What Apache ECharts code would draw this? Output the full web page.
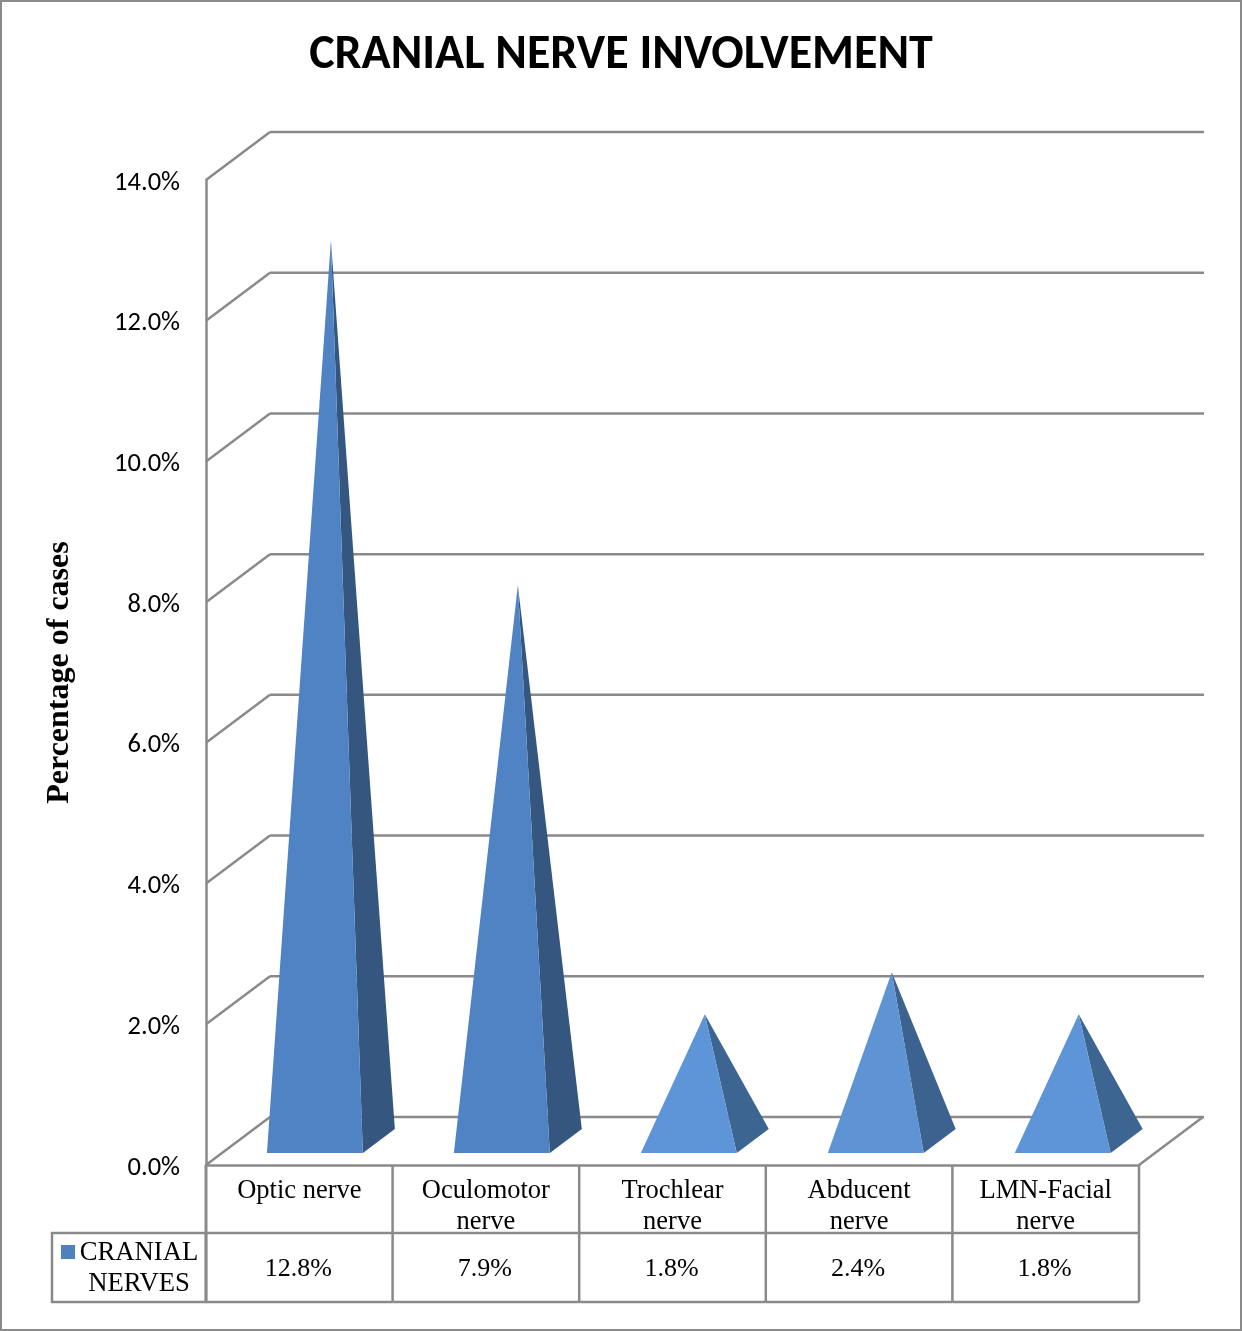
<!DOCTYPE html>
<html>
<head>
<meta charset="utf-8">
<title>Cranial nerve involvement</title>
<style>html,body{margin:0;padding:0;background:#fff}#chart{width:1242px;height:1331px}</style>
<script src="https://cdn.jsdelivr.net/npm/echarts@6/dist/echarts.min.js"></script>
</head>
<body>
<div id="chart"></div>
<script>
// Chart data
const categories = ['Optic nerve', 'Oculomotor\nnerve', 'Trochlear\nnerve', 'Abducent\nnerve', 'LMN-Facial\nnerve'];
const values = [12.8, 7.9, 1.8, 2.4, 1.8];
const wallTicks = [0, 2, 4, 6, 8, 10, 12, 14];
const seriesLabel = ['CRANIAL', 'NERVES'];

// Shading of each pyramid's two visible faces
const frontShades = ['#5083c4', '#5083c4', '#5e95d8', '#5e93d4', '#5e95d8'];
const sideShades = ['#34567f', '#34567f', '#3d6591', '#3c6290', '#3d6591'];

// Oblique projection of the chart's depth axis, and shared styling
const DEPTH_X = 64, DEPTH_Y = -48;
const PYRAMID_STEP = 0.35; // extra spacing between pyramids beyond the category band
const LINE = '#8a8a8a';
const SERIF = '"Liberation Serif", serif';
const SANS = 'Carlito, Lato, "Open Sans", sans-serif';

const chart = echarts.init(document.getElementById('chart'), null, { renderer: 'canvas' });

function line(x1, y1, x2, y2, width) {
  return {
    type: 'line',
    shape: { x1, y1, x2, y2 },
    style: { stroke: LINE, lineWidth: width || 2.5 }
  };
}

// Back wall and left wall lines at one axis value
function renderWall(params, api) {
  const box = params.coordSys;
  const y = api.coord([0, api.value(1)])[1];
  const bx = box.x + DEPTH_X, by = y + DEPTH_Y;
  const isFloor = api.value(1) === 0;
  const children = [
    line(box.x, y, bx, by),
    line(bx, by, box.x + box.width + DEPTH_X + 1, by)
  ];
  if (isFloor) {
    children.push(line(box.x + box.width, y, box.x + box.width + DEPTH_X, by));
  }
  return { type: 'group', children };
}

// One pyramid: a front face and a right side face meeting at the apex
function renderPyramid(params, api) {
  const i = api.value(0);
  const [cx, y0] = api.coord([i, 0]);
  const topY = api.coord([i, api.value(1)])[1];
  const band = api.size([1, 0])[0];
  const half = band * 0.257;
  const midX = cx + DEPTH_X / 2 - 0.4 + i * PYRAMID_STEP, midY = DEPTH_Y / 2;
  const frontL = [midX - half - DEPTH_X / 4, y0 + midY - DEPTH_Y / 4];
  const frontR = [midX + half - DEPTH_X / 4, y0 + midY - DEPTH_Y / 4];
  const backR = [midX + half + DEPTH_X / 4, y0 + midY + DEPTH_Y / 4];
  const apex = [midX, topY + midY];
  return {
    type: 'group',
    children: [
      { type: 'polygon', shape: { points: [frontR, backR, apex] }, style: { fill: sideShades[i] } },
      { type: 'polygon', shape: { points: [frontL, frontR, apex] }, style: { fill: frontShades[i] } }
    ]
  };
}

// Data table under the axis: cell borders and the value row
function renderTable(params, api) {
  const i = api.value(0);
  const [cx, y0] = api.coord([i, 0]);
  const band = api.size([1, 0])[0];
  const right = cx + band / 2;
  const left = cx - band / 2;
  const rowA = y0 + 68, rowB = y0 + 137;
  return {
    type: 'group',
    children: [
      line(right, y0, right, rowB),
      line(left, rowA, right, rowA),
      line(left, rowB, right, rowB),
      {
        type: 'text',
        style: {
          x: cx - 1, y: (rowA + rowB) / 2 + 2,
          text: api.value(1).toFixed(1) + '%',
          fill: '#000', font: '26px ' + SERIF,
          align: 'center', verticalAlign: 'middle'
        }
      }
    ]
  };
}

const barData = values.map((v, i) => [i, v]);

chart.setOption({
  animation: false,
  backgroundColor: '#fff',
  title: {
    text: 'CRANIAL NERVE INVOLVEMENT',
    left: 616, top: 27, textAlign: 'center',
    textStyle: { fontFamily: SANS, fontSize: 48, fontWeight: 'bold', color: '#000' }
  },
  grid: { left: 206, top: 180, width: 933, height: 985 },
  xAxis: {
    type: 'category',
    data: categories,
    axisTick: { show: false },
    axisLine: { lineStyle: { color: LINE, width: 2.5 } },
    axisLabel: {
      interval: 0, margin: 11, color: '#000',
      fontFamily: SERIF, fontSize: 26.5, lineHeight: 31,
      verticalAlign: 'top'
    }
  },
  yAxis: {
    type: 'value',
    min: 0, max: 14, interval: 2,
    name: 'Percentage of cases',
    nameLocation: 'middle',
    nameRotate: 90,
    nameGap: 130,
    nameTextStyle: { fontFamily: SERIF, fontSize: 32, fontWeight: 'bold', color: '#000' },
    splitLine: { show: false },
    axisTick: { show: false },
    axisLine: { show: true, lineStyle: { color: LINE, width: 2.5 } },
    axisLabel: {
      margin: 26,
      formatter: v => '{tick|' + v.toFixed(1) + '%}',
      rich: {
        tick: { color: '#000', fontFamily: SANS, fontSize: 26.5, padding: [6, 0, 0, 0] }
      }
    }
  },
  series: [
    { type: 'custom', name: 'walls', silent: true, z: 1, renderItem: renderWall,
      data: wallTicks.map(t => [0, t]), encode: { x: 0, y: 1 } },
    { type: 'custom', name: 'pyramids', silent: true, z: 3, renderItem: renderPyramid,
      data: barData, encode: { x: 0, y: 1 } },
    { type: 'custom', name: 'table', silent: true, z: 2, renderItem: renderTable,
      data: barData, encode: { x: 0, y: 1 } }
  ],
  graphic: [
    { type: 'rect', silent: true, shape: { x: 1, y: 1, width: 1240, height: 1329 },
      style: { fill: 'none', stroke: LINE, lineWidth: 2 } },
    { type: 'line', silent: true, shape: { x1: 206, y1: 1165, x2: 206, y2: 1302 }, style: { stroke: LINE, lineWidth: 3 } },
    { type: 'rect', silent: true, shape: { x: 52, y: 1233, width: 154, height: 69 },
      style: { fill: 'none', stroke: LINE, lineWidth: 2.5 } },
    { type: 'rect', silent: true, shape: { x: 61, y: 1245, width: 14, height: 14 }, style: { fill: '#4f81bd' } },
    { type: 'text', silent: true, style: { x: 139, y: 1253, text: seriesLabel[0], fill: '#000',
      font: '26.7px ' + SERIF, align: 'center', verticalAlign: 'middle' } },
    { type: 'text', silent: true, style: { x: 139, y: 1284, text: seriesLabel[1], fill: '#000',
      font: '26.7px ' + SERIF, align: 'center', verticalAlign: 'middle' } }
  ]
});
</script>
</body>
</html>
